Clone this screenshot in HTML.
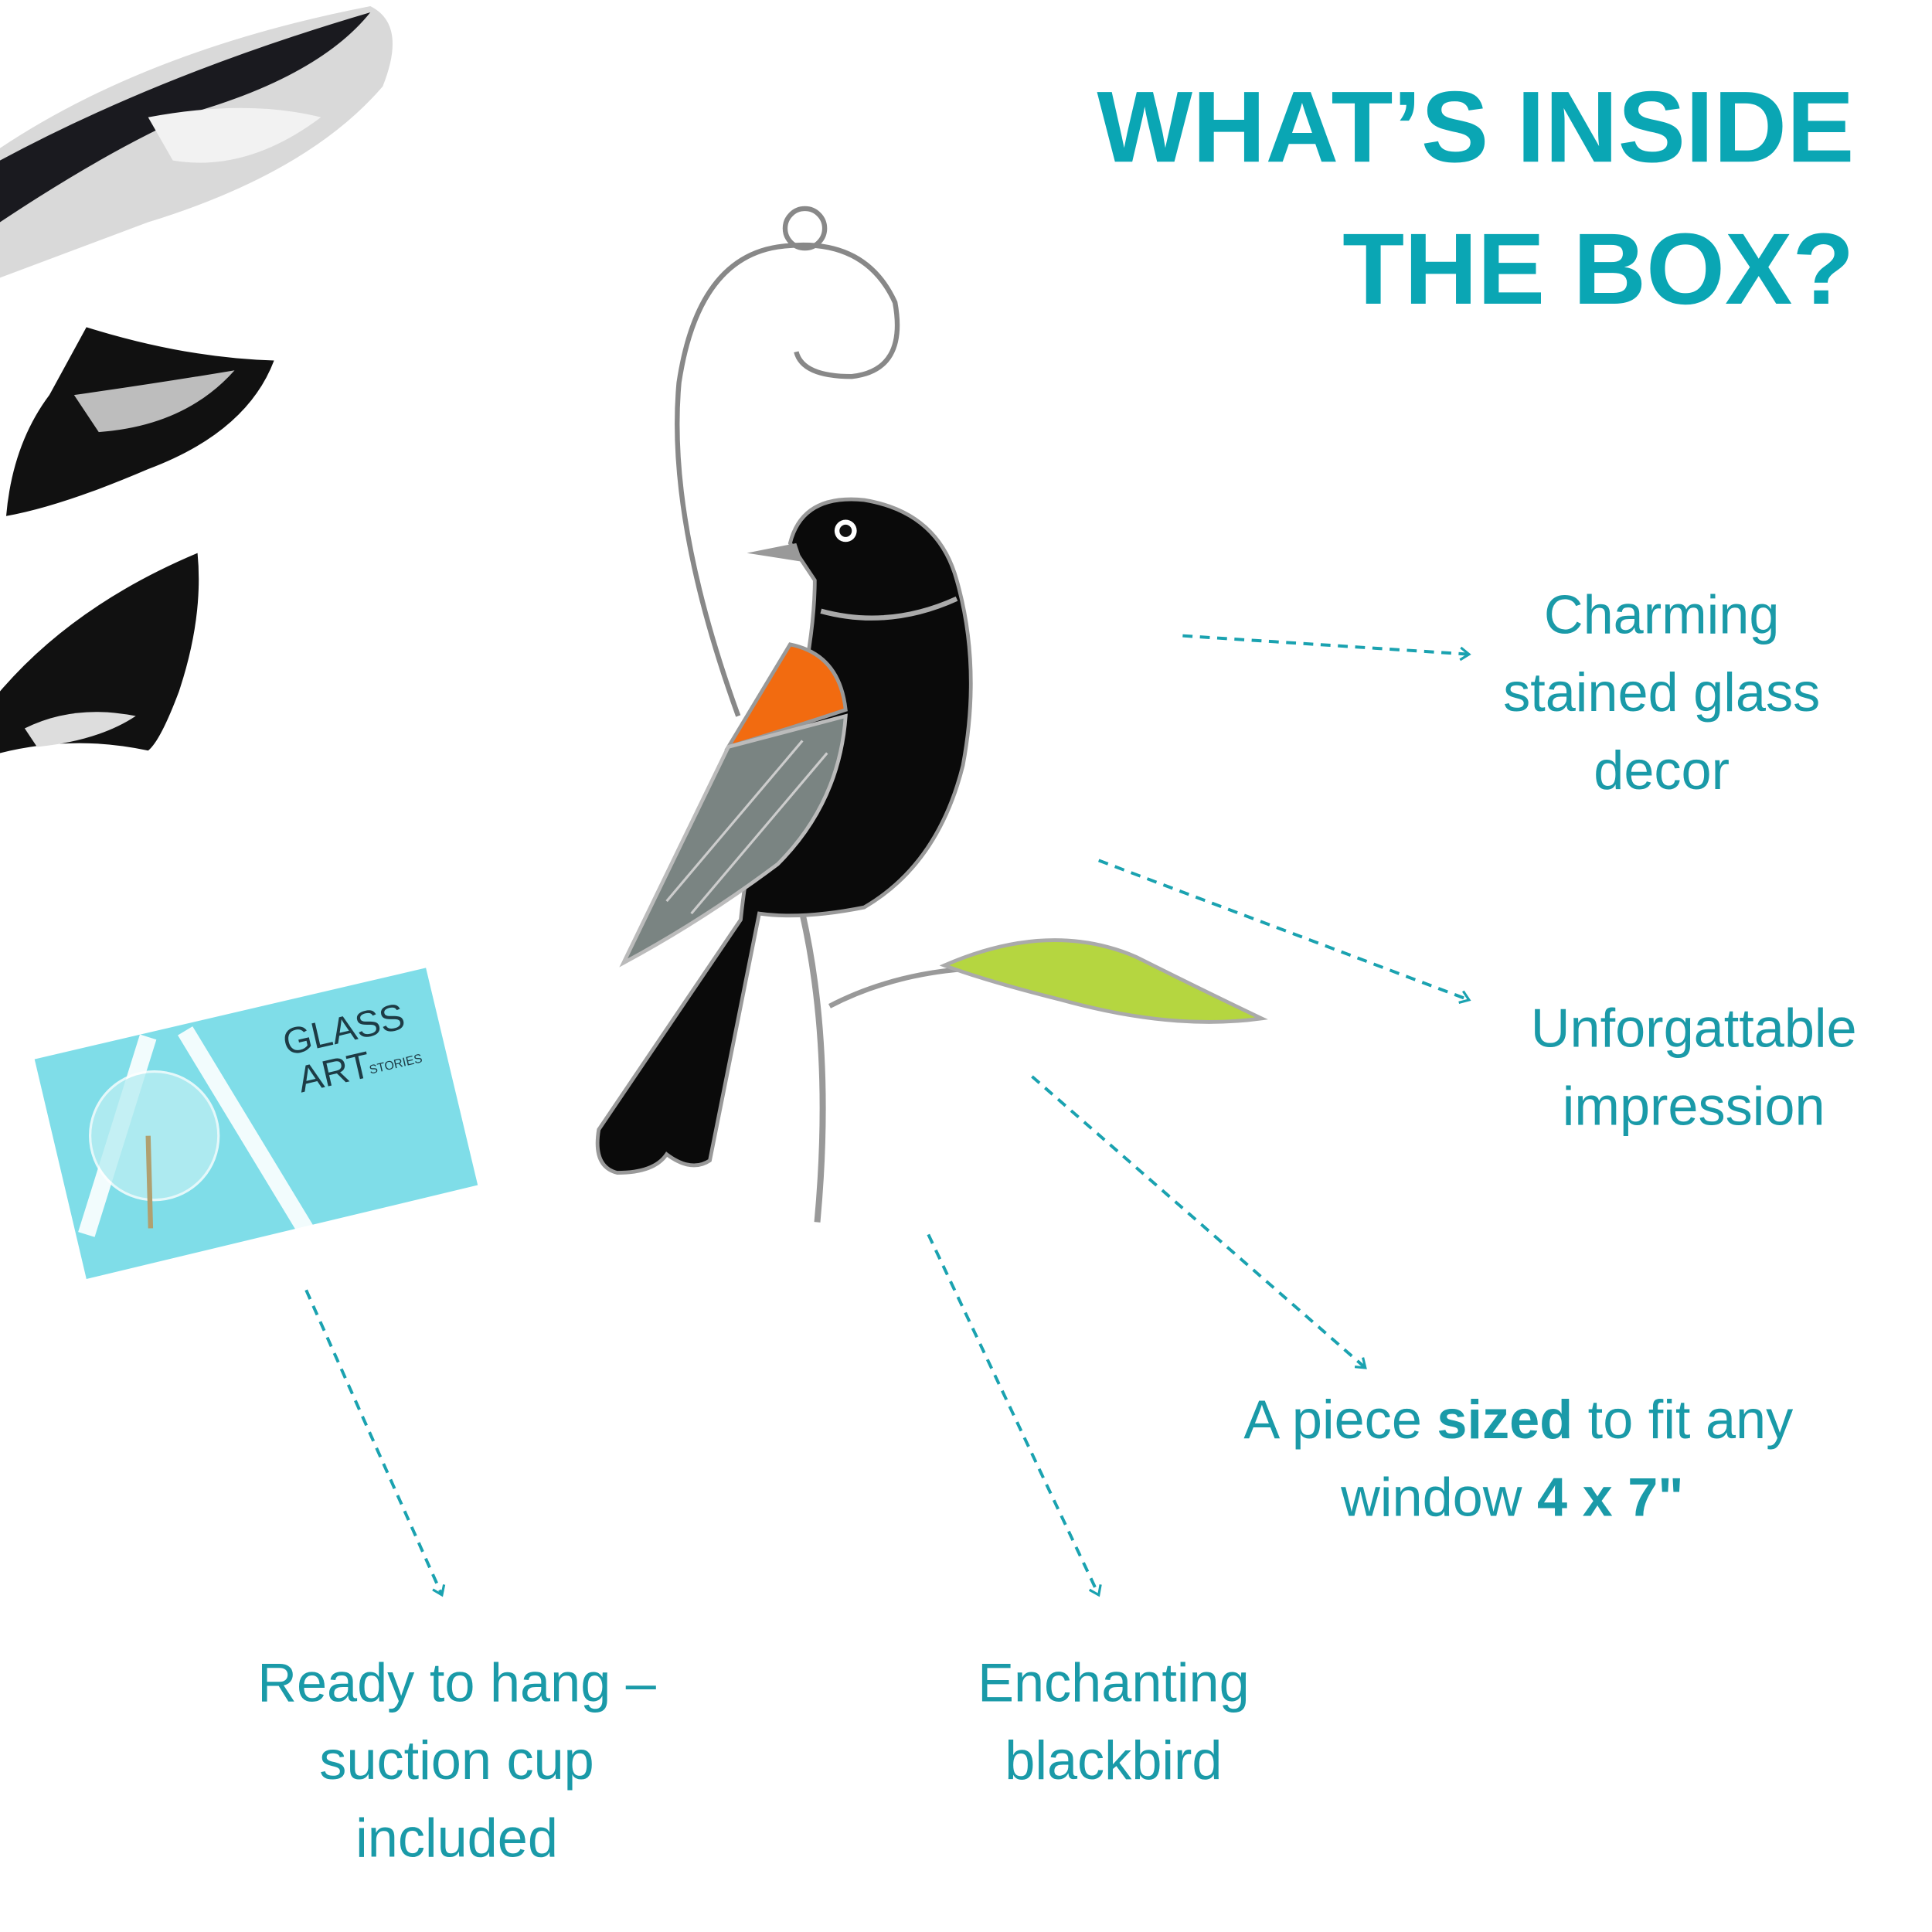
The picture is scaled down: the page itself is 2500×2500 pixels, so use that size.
<!DOCTYPE html>
<html><head><meta charset="utf-8"><style>
html,body{margin:0;padding:0;background:#fff;}
svg{display:block}
text{font-family:"Liberation Sans",sans-serif;}
</style></head><body>
<svg width="2500" height="2500" viewBox="0 0 1565 1565" xmlns="http://www.w3.org/2000/svg">
<defs>
<marker id="ah" markerWidth="12" markerHeight="12" refX="9" refY="6" orient="auto" markerUnits="userSpaceOnUse">
<path d="M2,1 L9,6 L2,11" fill="none" stroke="#1aa2b0" stroke-width="2"/>
</marker>
</defs>
<rect width="1565" height="1565" fill="#fff"/>
<!-- glass pieces -->
<path d="M0,120 Q120,40 300,5 Q330,20 310,70 Q250,140 120,180 Q40,210 0,225 Z" fill="#d9d9d9"/>
<path d="M0,130 Q130,60 300,10 Q260,60 160,90 Q90,120 0,180 Z" fill="#1a1a1f"/>
<path d="M120,95 Q200,80 260,95 Q200,140 140,130 Z" fill="#f2f2f2"/>
<path d="M70,265 Q150,290 222,292 Q200,350 120,380 Q50,410 5,418 Q10,360 40,320 Z" fill="#111"/>
<path d="M60,320 Q130,310 190,300 Q150,345 80,350 Z" fill="#e8e8e8" opacity="0.8"/>
<path d="M0,560 Q60,490 160,448 Q165,500 145,560 Q130,600 120,608 Q60,595 0,610 Z" fill="#111"/>
<path d="M20,590 Q60,570 110,580 Q80,600 30,605 Z" fill="#ddd"/>
<!-- card -->
<path d="M28,858 L345,784 L387,960 L70,1036 Z" fill="#7fdde8"/>
<path d="M120,840 L70,1000 M150,835 L250,1000" stroke="#fff" stroke-width="14" fill="none" opacity="0.9"/>
<circle cx="125" cy="920" r="52" fill="#b9eef2" opacity="0.8" stroke="#fff" stroke-width="2"/>
<path d="M120,920 L122,995" stroke="#b0a070" stroke-width="4"/>
<text x="232" y="855" font-size="30" fill="#1d3b45" font-family="Liberation Serif" transform="rotate(-13 232 855)">GLASS</text>
<text x="244" y="885" font-size="30" fill="#1d3b45" font-family="Liberation Serif" transform="rotate(-13 244 885)">ART</text>
<text x="300" y="870" font-size="10" fill="#1d3b45" transform="rotate(-13 300 870)">STORIES</text>
<!-- wire -->
<path d="M598,580 Q540,420 550,310 Q565,210 630,200 Q700,190 725,245 Q735,300 690,305 Q650,305 645,285" fill="none" stroke="#888" stroke-width="4"/>
<circle cx="652" cy="185" r="16" fill="none" stroke="#888" stroke-width="4"/>
<path d="M650,740 Q675,850 662,990" fill="none" stroke="#999" stroke-width="5"/>
<path d="M672,815 Q720,790 780,785" fill="none" stroke="#999" stroke-width="4"/>
<!-- leaf -->
<path d="M765,782 Q850,745 920,775 Q980,805 1022,825 Q950,835 860,810 Q800,795 765,782 Z" fill="#b5d640" stroke="#aaa" stroke-width="3"/>
<!-- bird -->
<path d="M640,440 Q650,400 700,405 Q760,415 775,470 Q795,540 780,620 Q760,700 700,735 Q650,745 615,740 L575,940 Q560,950 540,935 Q530,950 500,950 Q480,945 485,915 L600,745 Q610,650 640,600 Q660,520 660,470 Z" fill="#0a0a0a" stroke="#999" stroke-width="3"/>
<path d="M645,440 L605,448 L650,455 Z" fill="#999"/>
<circle cx="685" cy="430" r="9" fill="#fff"/><circle cx="685" cy="430" r="5" fill="#111"/>
<path d="M665,495 Q720,510 775,485" fill="none" stroke="#aaa" stroke-width="4"/>
<path d="M590,605 L640,522 Q680,530 685,575 Q640,590 590,605 Z" fill="#f26b10" stroke="#999" stroke-width="3"/>
<path d="M505,780 L590,605 L685,580 Q680,650 630,700 Q570,745 505,780 Z" fill="#7a8482" stroke="#bbb" stroke-width="3"/>
<path d="M540,730 L650,600 M560,740 L670,610" stroke="#ccc" stroke-width="2"/>
<!-- arrows -->
<g stroke="#1aa2b0" stroke-width="2.5" stroke-dasharray="8,6" fill="none" marker-end="url(#ah)">
<line x1="958" y1="515" x2="1190" y2="530"/>
<line x1="890" y1="697" x2="1190" y2="810"/>
<line x1="836" y1="872" x2="1106" y2="1108"/>
<line x1="752" y1="1000" x2="890" y2="1292"/>
<line x1="248" y1="1045" x2="358" y2="1292"/>
</g>
<!-- title -->
<g fill="#0aa6b4" font-weight="bold" font-size="82" text-anchor="end">
<text x="1502" y="131">WHAT’S INSIDE</text>
<text x="1502" y="246">THE BOX?</text>
</g>
<g fill="#1a9aa8" font-size="44" text-anchor="middle">
<text x="1346" y="513">Charming</text>
<text x="1346" y="576">stained glass</text>
<text x="1346" y="639">decor</text>
<text x="1372" y="848">Unforgattable</text>
<text x="1372" y="911">impression</text>
<text x="1230" y="1165">A piece <tspan font-weight="bold">sized</tspan> to fit any</text>
<text x="1225" y="1228">window  <tspan font-weight="bold">4 x 7"</tspan></text>
<text x="370" y="1378">Ready to hang –</text>
<text x="370" y="1441">suction cup</text>
<text x="370" y="1504">included</text>
<text x="902" y="1378">Enchanting</text>
<text x="902" y="1441">blackbird</text>
</g>
</svg>
</body></html>
